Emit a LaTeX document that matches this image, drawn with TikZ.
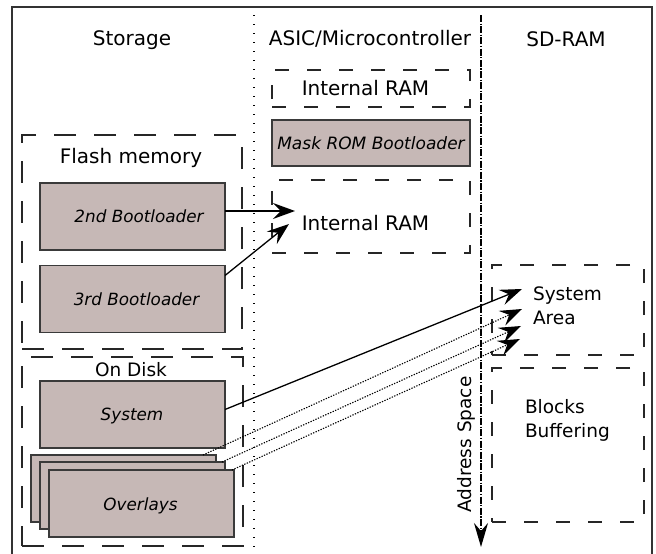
\documentclass[tikz,border=0pt]{standalone}
\usepackage{fontspec}
\setmainfont{DejaVu Sans}
\usetikzlibrary{arrows.meta,calc}
\definecolor{boxfill}{HTML}{C6B8B6}
\definecolor{boxline}{HTML}{3A3A3A}
\begin{document}
\begin{tikzpicture}[x=1pt,y=-1pt,
  every node/.style={inner sep=0pt, outer sep=0pt},
  solidbox/.style={draw=boxline, line width=1.1pt, fill=boxfill, rectangle, minimum width=185pt, minimum height=67pt},
  dashbox/.style={draw=black!85, line width=1.3pt, dash pattern=on 14pt off 18pt, rectangle},
  bigdash/.style={draw=black!85, line width=1.3pt, dash pattern=on 22pt off 18pt, rectangle},
  title/.style={font=\fontsize{20}{24}\selectfont, anchor=base},
  lbl/.style={font=\fontsize{18.5}{24}\selectfont, anchor=base},
  itl/.style={font=\fontsize{16.8}{20}\selectfont\itshape, anchor=base},
  tip/.style={-{Stealth[length=22pt,width=16pt,inset=8pt]}, line width=1.3pt},
  dotline/.style={dash pattern=on 1.3pt off 1.4pt, line width=1.1pt},
  frame/.style={draw=black!80, line width=1.3pt},
  sepdot/.style={line width=1.4pt, dash pattern=on 1.4pt off 7.6pt},
  addr/.style={line width=1.4pt, dash pattern=on 7pt off 1.5pt on 1.2pt off 1.5pt},
]
\useasboundingbox (0,0) rectangle (656,554);
% frame and separators
\draw[frame] (12,554) -- (12,7) -- (652,7) -- (652,554);
\draw[sepdot] (254,15) -- (254,548);
% titles
\node[title] (storage) at (132,45.5) {Storage};
\node[title] (asic) at (370,45.5) {ASIC/Microcontroller};
\node[title] (sdram) at (566,46) {SD-RAM};
% ASIC column
\node[dashbox, minimum width=198pt, minimum height=37pt] (iram1) at (371,88.5) {};
\node[title] (iram1t) at (365.5,95) {Internal RAM};
\node[solidbox, minimum width=198pt, minimum height=46pt, font=\fontsize{17}{20}\selectfont\itshape] (mrom) at (371,143) {Mask ROM Bootloader};
\node[dashbox, minimum width=198pt, minimum height=73pt] (iram2) at (371,216.5) {};
\node[title] (iram2t) at (365.5,230) {Internal RAM};
% Storage column
\node[bigdash, minimum width=220pt, minimum height=214pt] (flash) at (132,242) {};
\node[title] (flasht) at (131,163) {Flash memory};
\node[solidbox] (b2) at (132.5,216.5) {};
\node[itl] (b2t) at (139,222.7) {2nd Bootloader};
\node[solidbox] (b3) at (132.5,299) {};
\node[itl] (b3t) at (136.5,305.7) {3rd Bootloader};
\node[bigdash, minimum width=221pt, minimum height=189pt] (disk) at (132.5,451.5) {};
\node[lbl] (diskt) at (131,376) {On Disk};
\node[solidbox] (sys) at (132.5,414.5) {};
\node[itl] (syst) at (132,420.7) {System};
\node[solidbox] (ov1) at (123.5,488.5) {};
\node[solidbox] (ov2) at (132.5,495.5) {};
\node[solidbox] (ov3) at (141.5,503.5) {};
\node[itl] (ovt) at (140.5,510) {Overlays};
% SD-RAM column
\node[dashbox, minimum width=152pt, minimum height=90pt] (sarea) at (568,310) {};
\node[lbl, anchor=base west] (sa1) at (533,300.7) {System};
\node[lbl, anchor=base west] (sa2) at (533,324) {Area};
\node[dashbox, minimum width=152pt, minimum height=154pt] (blocks) at (568,445) {};
\node[lbl, anchor=base west] (bb1) at (525,413.3) {Blocks};
\node[lbl, anchor=base west] (bb2) at (525,437.3) {Buffering};
% address space
\coordinate (as1) at (481,15);
\coordinate (as2) at (481,547);
\draw[addr, -{Stealth[length=24pt,width=14pt,inset=8pt]}] (as1) -- (as2);
\node[lbl, rotate=90] (ast) at (471,444.5) {Address Space};
% arrows
\coordinate (t1) at (295,211);
\coordinate (t2) at (289,224);
\coordinate (t3) at (522,289);
\coordinate (t4) at (522,309);
\coordinate (t5) at (521,326);
\coordinate (t6) at (520,339);
\draw[tip] (b2.east |- t1) -- (t1);
\draw[tip] ($(b3.north east)+(0,10)$) -- (t2);
\draw[tip] ($(sys.east)+(0,-5)$) -- (t3);
\draw[tip, dotline] ($(ov1.north east)+(-13,0)$) -- (t4);
\draw[tip, dotline] ($(ov2.north east)+(-3,0)$) -- (t5);
\draw[tip, dotline] ($(ov3.north east)+(-2,0)$) -- (t6);
\end{tikzpicture}
\end{document}
